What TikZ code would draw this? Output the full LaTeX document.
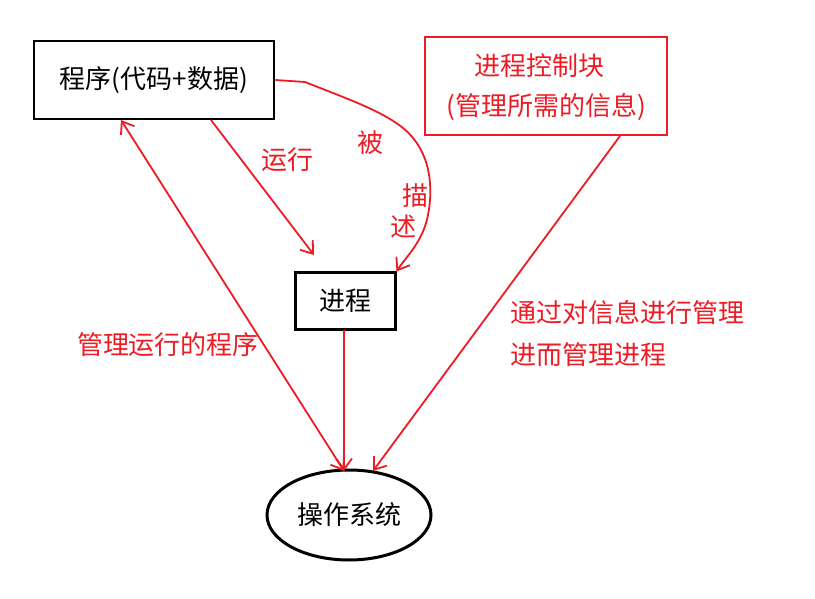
\documentclass[tikz,border=0pt]{standalone}
\usepackage{fontspec}
\setmainfont{Noto Sans CJK SC}
\usetikzlibrary{arrows.meta,shapes.geometric}
\definecolor{pred}{RGB}{237,28,36}
\tikzset{
  blackbox/.style={draw=black,line width=2.6pt,inner sep=0pt,font=\fontsize{26}{30}\selectfont},
  redbox/.style={draw=pred,line width=2pt,inner sep=0pt},
  redtxt/.style={text=pred,font=\fontsize{26}{30}\selectfont,inner sep=0pt},
  conn/.style={draw=pred,line width=1.8pt,-{Straight Barb[length=11pt,width=16pt,line width=1.8pt]}},
}
\begin{document}
\begin{tikzpicture}[x=1pt,y=-1pt]
\useasboundingbox (0,0) rectangle (815,599);
\node[blackbox,minimum width=240pt,minimum height=78pt] (prog) at (154,80) {程序(代码+数据)};
\node[redbox,minimum width=242pt,minimum height=98pt] (pcb) at (546,86) {};
\node[redtxt] (pcbA) at (539,66) {进程控制块};
\node[redtxt] (pcbB) at (546,107) {(管理所需的信息)};
\node[blackbox,line width=3pt,minimum width=100pt,minimum height=56pt] (proc) at (345,301) {进程};
\node[draw=black,line width=3pt,ellipse,minimum width=164pt,minimum height=90pt,inner sep=0pt,font=\fontsize{26}{30}\selectfont] (os) at (349,515) {操作系统};
\coordinate (runS) at (211,120);
\coordinate (runE) at (314,255);
\coordinate (osTop) at (344,471);
\coordinate (osTopR) at (373,471);
\coordinate (procB) at (344,330);
\coordinate (pcbS) at (620,136);
\coordinate (progB) at (121,120);
\draw[conn] (runS) -- (runE);
\draw[conn] (prog.east) -- (305,82) .. controls (350,100) and (395,115) .. (413,138) .. controls (433,162) and (432,195) .. (428,215) .. controls (423,242) and (405,258) .. (proc.north east);
\draw[conn] (procB) -- (osTop);
\draw[conn,{Straight Barb[length=11pt,width=16pt,line width=1.8pt]}-{Straight Barb[length=11pt,width=16pt,line width=1.8pt]}] (progB) -- (osTop);
\draw[conn] (pcbS) -- (osTopR);
\node[redtxt] (lrun) at (287,160) {运行};
\node[redtxt] (lbei) at (370,143) {被};
\node[redtxt] (lmiao) at (415,196) {描};
\node[redtxt] (lshu) at (403,227) {述};
\node[redtxt] (lmgr) at (168,345) {管理运行的程序};
\node[redtxt,anchor=west] (lvia) at (510,313) {通过对信息进行管理};
\node[redtxt,anchor=west] (lthen) at (510,355) {进而管理进程};
\end{tikzpicture}
\end{document}
